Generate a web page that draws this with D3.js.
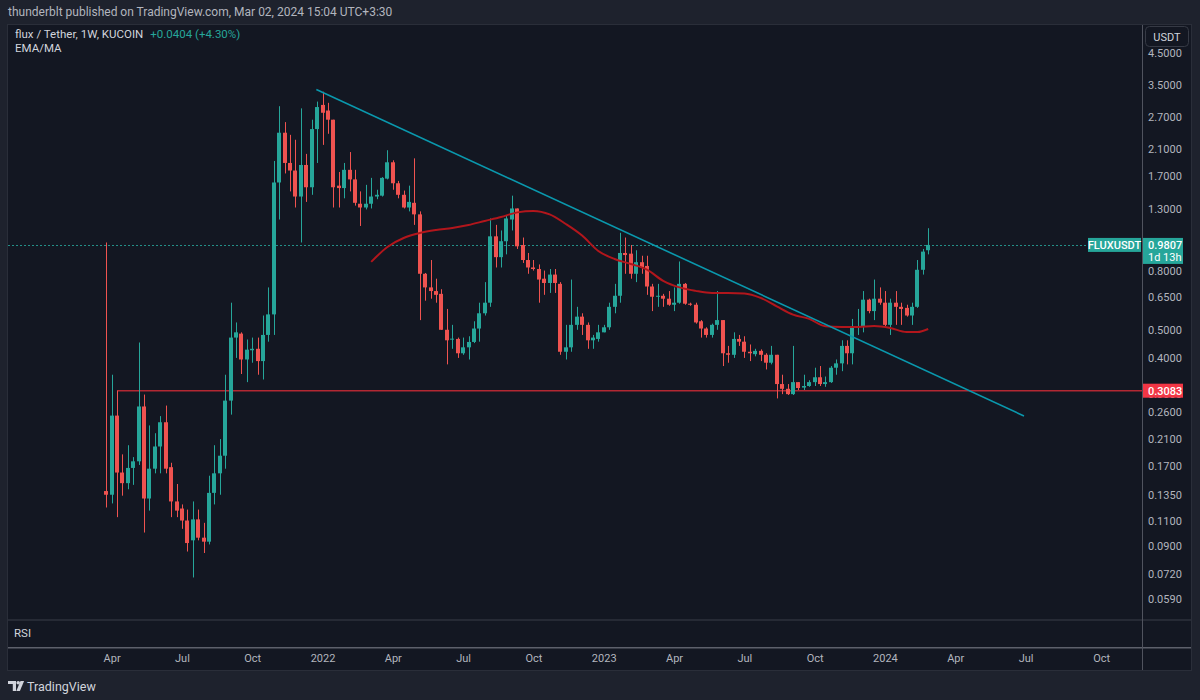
<!DOCTYPE html>
<html>
<head>
<meta charset="utf-8">
<title>FLUXUSDT 1W</title>
<script src="https://cdn.jsdelivr.net/npm/d3@7"></script>
<style>
  body { margin: 0; background: #1e222d; }
  svg text { font-family: Roboto, "Noto Sans", sans-serif; }
</style>
</head>
<body>
<svg id="chart" width="1200" height="700"></svg>
<script>
// weekly candles [open, high, low, close], first bar = week of 2021-03-29
const firstWeek = "2021-03-29";

const bars2021 = [
  [0.139, 1.00, 0.122, 0.135], [0.135, 0.350, 0.126, 0.253], [0.253, 0.3083, 0.113, 0.161], [0.161, 0.186, 0.134, 0.148],
  [0.148, 0.200, 0.141, 0.167], [0.167, 0.182, 0.146, 0.176], [0.176, 0.452, 0.171, 0.272], [0.272, 0.299, 0.100, 0.131],
  [0.131, 0.234, 0.119, 0.166], [0.166, 0.220, 0.160, 0.198], [0.198, 0.252, 0.160, 0.240], [0.240, 0.274, 0.160, 0.166],
  [0.168, 0.174, 0.113, 0.128], [0.128, 0.147, 0.113, 0.119], [0.121, 0.125, 0.103, 0.110], [0.110, 0.120, 0.086, 0.092],
  [0.094, 0.128, 0.070, 0.111], [0.111, 0.120, 0.094, 0.096], [0.096, 0.108, 0.085, 0.093], [0.093, 0.157, 0.091, 0.137],
  [0.137, 0.200, 0.125, 0.160], [0.160, 0.210, 0.135, 0.184], [0.184, 0.350, 0.166, 0.285], [0.285, 0.620, 0.255, 0.470],
  [0.470, 0.530, 0.400, 0.490], [0.485, 0.490, 0.352, 0.395], [0.395, 0.463, 0.330, 0.427], [0.425, 0.470, 0.385, 0.430],
  [0.430, 0.470, 0.350, 0.390], [0.390, 0.560, 0.337, 0.480], [0.480, 0.700, 0.455, 0.565], [0.565, 1.91, 0.480, 1.61],
  [1.61, 2.95, 1.20, 2.39], [2.39, 2.60, 1.73, 1.88], [1.88, 2.35, 1.50, 1.77], [1.77, 2.26, 1.32, 1.44],
  [1.44, 2.90, 1.00, 1.85], [1.85, 2.02, 1.38, 1.55], [1.55, 2.65, 1.46, 2.46], [2.46, 3.06, 1.88, 2.93]
];

const bars2022 = [
  [2.98, 3.31, 2.17, 2.80], [2.85, 3.03, 2.37, 2.65], [2.65, 2.65, 1.32, 1.55], [1.57, 1.75, 1.32, 1.54],
  [1.54, 1.88, 1.42, 1.78], [1.78, 2.05, 1.50, 1.65], [1.65, 1.78, 1.34, 1.37], [1.36, 1.50, 1.14, 1.32],
  [1.32, 1.58, 1.30, 1.36], [1.36, 1.67, 1.31, 1.44], [1.44, 1.52, 1.41, 1.46], [1.45, 1.68, 1.44, 1.67],
  [1.66, 2.08, 1.65, 1.89], [1.89, 1.92, 1.52, 1.60], [1.60, 1.63, 1.42, 1.46], [1.46, 1.51, 1.31, 1.32],
  [1.32, 1.57, 1.28, 1.38], [1.37, 1.95, 1.15, 1.25], [1.25, 1.28, 0.54, 0.78], [0.78, 0.785, 0.63, 0.70],
  [0.70, 0.87, 0.64, 0.68], [0.68, 0.75, 0.62, 0.66], [0.665, 0.69, 0.50, 0.50], [0.50, 0.59, 0.38, 0.46],
  [0.463, 0.52, 0.43, 0.466], [0.465, 0.47, 0.40, 0.415], [0.415, 0.47, 0.41, 0.435], [0.435, 0.475, 0.395, 0.454],
  [0.454, 0.535, 0.45, 0.505], [0.505, 0.62, 0.455, 0.57], [0.57, 0.73, 0.56, 0.62], [0.62, 1.21, 0.60, 1.05],
  [1.05, 1.15, 0.82, 0.89], [0.89, 1.10, 0.82, 1.01], [1.01, 1.24, 0.91, 1.21], [1.20, 1.45, 1.10, 1.31],
  [1.31, 1.31, 0.95, 0.97], [0.98, 1.04, 0.85, 0.87], [0.87, 0.92, 0.78, 0.82], [0.82, 0.87, 0.80, 0.81],
  [0.81, 0.84, 0.62, 0.745], [0.75, 0.80, 0.66, 0.725], [0.725, 0.81, 0.67, 0.775], [0.775, 0.81, 0.67, 0.725],
  [0.72, 0.73, 0.41, 0.42], [0.42, 0.52, 0.395, 0.435], [0.435, 0.745, 0.42, 0.52], [0.52, 0.60, 0.50, 0.555],
  [0.555, 0.57, 0.48, 0.52], [0.52, 0.53, 0.43, 0.46], [0.46, 0.48, 0.43, 0.47], [0.465, 0.52, 0.455, 0.49]
];

const bars2023 = [
  [0.49, 0.52, 0.49, 0.51], [0.51, 0.62, 0.50, 0.60], [0.60, 0.72, 0.57, 0.655], [0.655, 1.08, 0.62, 0.92],
  [0.92, 1.04, 0.78, 0.905], [0.915, 0.98, 0.75, 0.78], [0.78, 0.94, 0.73, 0.855], [0.855, 0.90, 0.78, 0.82],
  [0.83, 0.90, 0.66, 0.705], [0.705, 0.72, 0.58, 0.65], [0.65, 0.72, 0.60, 0.655], [0.655, 0.665, 0.60, 0.64],
  [0.64, 0.68, 0.605, 0.61], [0.61, 0.70, 0.58, 0.62], [0.62, 0.86, 0.615, 0.72], [0.72, 0.725, 0.61, 0.615],
  [0.615, 0.62, 0.605, 0.61], [0.61, 0.62, 0.525, 0.53], [0.535, 0.54, 0.47, 0.505], [0.505, 0.51, 0.47, 0.48],
  [0.48, 0.525, 0.47, 0.52], [0.52, 0.68, 0.50, 0.54], [0.54, 0.54, 0.375, 0.415], [0.415, 0.44, 0.385, 0.41],
  [0.41, 0.49, 0.40, 0.465], [0.465, 0.48, 0.44, 0.455], [0.455, 0.475, 0.40, 0.42], [0.42, 0.445, 0.39, 0.415],
  [0.412, 0.43, 0.405, 0.423], [0.423, 0.428, 0.39, 0.41], [0.41, 0.415, 0.365, 0.385], [0.385, 0.44, 0.38, 0.41],
  [0.41, 0.41, 0.29, 0.325], [0.325, 0.35, 0.30, 0.313], [0.313, 0.325, 0.298, 0.30], [0.30, 0.44, 0.298, 0.33],
  [0.33, 0.33, 0.31, 0.315], [0.316, 0.35, 0.31, 0.32], [0.32, 0.335, 0.318, 0.33], [0.33, 0.37, 0.32, 0.343],
  [0.343, 0.375, 0.32, 0.325], [0.325, 0.345, 0.318, 0.33], [0.33, 0.375, 0.328, 0.37], [0.37, 0.395, 0.35, 0.383],
  [0.383, 0.46, 0.36, 0.44], [0.44, 0.46, 0.38, 0.415], [0.415, 0.545, 0.38, 0.51], [0.51, 0.59, 0.48, 0.515],
  [0.515, 0.68, 0.49, 0.635], [0.635, 0.64, 0.57, 0.58], [0.58, 0.745, 0.54, 0.64], [0.64, 0.70, 0.61, 0.62]
];

const bars2024 = [
  [0.62, 0.68, 0.515, 0.52], [0.52, 0.64, 0.48, 0.62], [0.62, 0.68, 0.52, 0.60], [0.60, 0.62, 0.52, 0.59],
  [0.595, 0.61, 0.555, 0.56], [0.56, 0.62, 0.52, 0.60], [0.60, 0.87, 0.595, 0.805], [0.805, 0.95, 0.775, 0.93],
  [0.9403, 1.12, 0.91, 0.9807]
];

// moving average (bar index -> value)
const maBars   = [49, 52, 55, 58, 61, 64, 67, 70, 73, 76, 79, 82, 85, 88, 91, 94, 97, 100, 103, 106, 109, 112,
                  115, 118, 121, 124, 127, 130, 133, 136, 139, 142, 145, 148, 150, 152];
const maValues = [0.857, 0.965, 1.036, 1.078, 1.104, 1.122, 1.149, 1.186, 1.224, 1.27, 1.285, 1.25, 1.158, 1.057,
                  0.935, 0.877, 0.843, 0.806, 0.737, 0.700, 0.681, 0.670, 0.670, 0.667, 0.644, 0.602, 0.564,
                  0.545, 0.514, 0.511, 0.511, 0.515, 0.507, 0.491, 0.491, 0.503];

// drawings
const trendDates  = ["2021-12-26", "2024-06-29"];
const trendPrices = [3.37, 0.2523];
const supportDate = "2021-04-12";
const supportPrice = 0.3083;
const lastPrice = 0.9807;

const priceTicks = [4.5, 3.5, 2.7, 2.1, 1.7, 1.3, 0.8, 0.65, 0.5, 0.4, 0.3, 0.26, 0.21, 0.17, 0.135, 0.11, 0.09, 0.072, 0.059];
const timeTickDates = ["2021-04-05", "2021-07-05", "2021-10-04", "2022-01-03", "2022-04-04", "2022-07-04", "2022-10-03",
                       "2023-01-02", "2023-04-03", "2023-07-03", "2023-10-02", "2024-01-01", "2024-04-01", "2024-07-01", "2024-10-07"];
const timeTickLabels = ["Apr", "Jul", "Oct", "2022", "Apr", "Jul", "Oct", "2023", "Apr", "Jul", "Oct", "2024", "Apr", "Jul", "Oct"];

const UP = "#26a69a", DOWN = "#ef5350";
const parse = d3.utcParse("%Y-%m-%d");
const start = parse(firstWeek);

const bars = [].concat(bars2021, bars2022, bars2023, bars2024).map((b, i) => ({
  date: d3.utcMonday.offset(start, i), o: b[0], h: b[1], l: b[2], c: b[3]
}));

const svg = d3.select("#chart");

// page + panel
svg.append("rect").attr("width", 1200).attr("height", 700).attr("fill", "#1e222d");
svg.append("rect").attr("x", 7.5).attr("y", 24.5).attr("width", 1184).attr("height", 646)
  .attr("fill", "#131722").attr("stroke", "#2a2e39");

svg.append("text").attr("x", 8).attr("y", 16).attr("fill", "#b2b5be").attr("font-size", 12)
  .text("thunderblt published on TradingView.com, Mar 02, 2024 15:04 UTC+3:30");

const x = d3.scaleUtc().domain([start, bars[bars.length - 1].date]).range([106.2, 928.2]);
const y = d3.scaleLog().domain([4.5, 0.059]).range([53, 599]);

svg.append("clipPath").attr("id", "pane").append("rect")
  .attr("x", 8).attr("y", 25).attr("width", 1134).attr("height", 594);
const pane = svg.append("g").attr("clip-path", "url(#pane)");

// last price dotted line
pane.append("line").attr("x1", 8).attr("x2", 1088)
  .attr("y1", Math.round(y(lastPrice)) + 0.5).attr("y2", Math.round(y(lastPrice)) + 0.5)
  .attr("stroke", UP).attr("stroke-dasharray", "2,2").attr("stroke-width", 1).attr("opacity", 0.85);

// horizontal support ray
pane.append("line").attr("x1", x(parse(supportDate))).attr("x2", 1142)
  .attr("y1", y(supportPrice)).attr("y2", y(supportPrice))
  .attr("stroke", "#b22833").attr("stroke-width", 1.5);

// candles
const candle = pane.append("g").selectAll("g").data(bars).join("g")
  .attr("fill", d => d.c >= d.o ? UP : DOWN);
candle.append("rect")
  .attr("x", d => Math.round(x(d.date)))
  .attr("width", 1)
  .attr("y", d => y(d.h))
  .attr("height", d => y(d.l) - y(d.h));
candle.append("rect")
  .attr("x", d => Math.round(x(d.date)) - 2)
  .attr("width", 4)
  .attr("y", d => y(Math.max(d.o, d.c)))
  .attr("height", d => Math.max(1, y(Math.min(d.o, d.c)) - y(Math.max(d.o, d.c))));

// moving average
const maPoints = maBars.map((b, i) => ({ date: bars[b].date, v: maValues[i] }));
pane.append("path").datum(maPoints)
  .attr("fill", "none").attr("stroke", "#b2161c").attr("stroke-width", 2)
  .attr("d", d3.line().x(d => x(d.date)).y(d => y(d.v)).curve(d3.curveMonotoneX));

// trend line
pane.append("line")
  .attr("x1", x(parse(trendDates[0]))).attr("y1", y(trendPrices[0]))
  .attr("x2", x(parse(trendDates[1]))).attr("y2", y(trendPrices[1]))
  .attr("stroke", "#0a98ad").attr("stroke-width", 1.6);

// pane separators
svg.append("rect").attr("x", 8).attr("y", 619).attr("width", 1183).attr("height", 2).attr("fill", "#262a35");
svg.append("rect").attr("x", 8).attr("y", 647).attr("width", 1183).attr("height", 1.5).attr("fill", "#5d606b");
svg.append("rect").attr("x", 1142).attr("y", 25).attr("width", 1).attr("height", 645).attr("fill", "#50535e");

// price axis
const yAxis = svg.append("g").attr("transform", "translate(1142,0)")
  .call(d3.axisRight(y).tickValues(priceTicks).tickFormat(d3.format(".4f")).tickSize(0).tickPadding(6));
yAxis.select(".domain").remove();
yAxis.selectAll("text").attr("fill", "#b2b5be").attr("font-size", 11);

// time axis
const xAxis = svg.append("g").attr("transform", "translate(0,651)")
  .call(d3.axisBottom(x).tickValues(timeTickDates.map(parse)).tickFormat((d, i) => timeTickLabels[i]).tickSize(0).tickPadding(3));
xAxis.select(".domain").remove();
xAxis.selectAll("text").attr("fill", "#b2b5be").attr("font-size", 11);

// legend
const legend = svg.append("text").attr("x", 15).attr("y", 38).attr("font-size", 11.5).attr("fill", "#d1d4dc");
legend.append("tspan").text("flux / Tether, 1W, KUCOIN");
legend.append("tspan").attr("dx", 7).attr("fill", UP).text("+0.0404 (+4.30%)");
svg.append("text").attr("x", 15).attr("y", 52).attr("font-size", 11.5).attr("fill", "#d1d4dc").text("EMA/MA");
svg.append("text").attr("x", 14).attr("y", 637).attr("font-size", 11.5).attr("fill", "#d1d4dc").text("RSI");

// USDT button
svg.append("rect").attr("x", 1145.5).attr("y", 26.5).attr("width", 43).attr("height", 20).attr("rx", 4)
  .attr("fill", "#131722").attr("stroke", "#363a45");
svg.append("text").attr("x", 1167).attr("y", 41).attr("text-anchor", "middle").attr("font-size", 11)
  .attr("fill", "#d1d4dc").text("USDT");

// last price labels
const yl = y(lastPrice);
svg.append("rect").attr("x", 1088).attr("y", yl - 7).attr("width", 53).attr("height", 14).attr("fill", UP);
svg.append("text").attr("x", 1114.5).attr("y", yl + 4).attr("text-anchor", "middle").attr("font-size", 11)
  .attr("font-weight", 500).attr("fill", "#ffffff").text("FLUXUSDT");
svg.append("rect").attr("x", 1143).attr("y", yl - 7).attr("width", 40).attr("height", 26).attr("fill", UP);
svg.append("text").attr("x", 1148).attr("y", yl + 4).attr("font-size", 11).attr("font-weight", 500)
  .attr("fill", "#ffffff").text(d3.format(".4f")(lastPrice));
svg.append("text").attr("x", 1148).attr("y", yl + 16).attr("font-size", 11)
  .attr("fill", "#ffffff").text("1d 13h");

// support label
const ys = y(supportPrice);
svg.append("rect").attr("x", 1143).attr("y", ys - 7).attr("width", 40).attr("height", 14).attr("fill", "#f23645");
svg.append("text").attr("x", 1148).attr("y", ys + 4).attr("font-size", 11).attr("font-weight", 500)
  .attr("fill", "#ffffff").text(d3.format(".4f")(supportPrice));

// footer logo
const logo = svg.append("g").attr("fill", "#d1d4dc");
logo.append("path").attr("d", "M8,681 h8 v10 h-3.2 v-7 h-4.8 z");
logo.append("circle").attr("cx", 18.2).attr("cy", 682.8).attr("r", 1.8);
logo.append("path").attr("d", "M20.5,681 h3.6 l-4.2,10 h-3.6 z");
svg.append("text").attr("x", 27).attr("y", 690.5).attr("font-size", 12.5).attr("fill", "#d1d4dc").text("TradingView");
</script>
</body>
</html>
